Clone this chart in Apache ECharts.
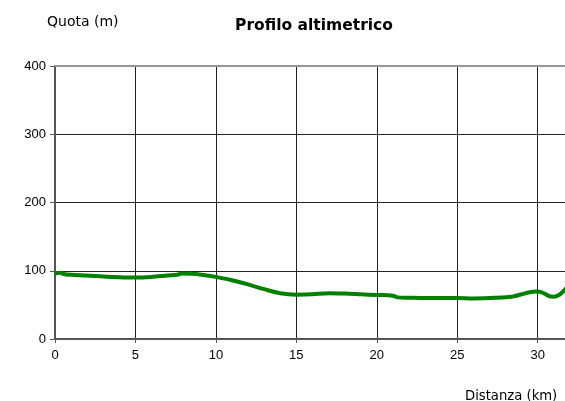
<!DOCTYPE html>
<html>
<head>
<meta charset="utf-8">
<script src="https://cdn.jsdelivr.net/npm/echarts@6/dist/echarts.min.js"></script>
<style>html,body{margin:0;padding:0;background:#fff}#c{width:565px;height:401px}</style>
</head>
<body>
<div id="c"></div>
<script>
var distanceKm = [0, 0.3, 0.6, 1, 2, 3, 4, 5, 6, 7, 7.6, 7.9, 8.5, 9, 10, 11, 12, 13, 14, 15, 16, 17, 18, 19, 20, 21, 21.3, 22, 23, 24, 25, 26, 27, 28, 28.5, 29, 29.5, 29.9, 30.3, 30.7, 31, 31.3, 31.6, 31.8];
var elevationM = [96, 97, 95, 94, 93, 91.5, 90.5, 90, 91, 93, 94, 96, 95.5, 94.5, 91, 86, 80, 73, 67, 65, 65.5, 67, 66.5, 65.5, 64.5, 63.5, 61, 60.5, 60, 60, 60, 59.5, 60, 61, 62.5, 65.5, 68.5, 69.5, 68, 63, 62, 64, 70, 75];
var xTicks = [0, 5, 10, 15, 20, 25, 30];
var yTicks = [0, 100, 200, 300, 400];

var pts = distanceKm.map(function (d, i) { return [d, elevationM[i]]; });
var chart = echarts.init(document.getElementById('c'));
var tickFont = { fontFamily: 'Liberation Sans', fontSize: 13, color: '#000' };
chart.setOption({
  animation: false,
  grid: { left: 55, right: 0, top: 66, bottom: 62 },
  title: [
    { text: 'Profilo altimetrico', left: 314, top: 18, textAlign: 'center', padding: 0,
      textStyle: { fontFamily: 'DejaVu Sans', fontWeight: 'bold', fontSize: 15.5, color: '#000' } },
    { text: 'Quota (m)', left: 47, top: 15, padding: 0,
      textStyle: { fontFamily: 'DejaVu Sans', fontWeight: 'normal', fontSize: 14, color: '#000' } },
    { text: 'Distanza (km)', left: 465, top: 390, padding: 0,
      textStyle: { fontFamily: 'DejaVu Sans', fontWeight: 'normal', fontSize: 13.2, color: '#000' } }
  ],
  xAxis: [{
    type: 'value', min: 0, max: 31.7, interval: 5,
    axisLine: { show: true, lineStyle: { color: '#555', width: 2 } },
    axisTick: { show: true, length: 4, lineStyle: { color: '#555' } },
    axisLabel: Object.assign({ margin: 10, showMaxLabel: false,
      formatter: function (v) { return xTicks.indexOf(v) >= 0 ? String(v) : ''; } }, tickFont),
    splitLine: { show: true, lineStyle: { color: '#222', width: 1 } }
  }, {
    type: 'value', position: 'top', min: 0, max: 31.7,
    axisLine: { show: true, onZero: false, lineStyle: { color: '#999', width: 2 } },
    axisTick: { show: false }, axisLabel: { show: false }, splitLine: { show: false }
  }],
  yAxis: {
    type: 'value', min: 0, max: 400, interval: 100,
    axisLine: { show: true, lineStyle: { color: '#555', width: 2 } },
    axisTick: { show: true, length: 5, lineStyle: { color: '#555' } },
    axisLabel: Object.assign({ margin: 9,
      formatter: function (v) { return yTicks.indexOf(v) >= 0 ? String(v) : ''; } }, tickFont),
    splitLine: { show: true, lineStyle: { color: '#222', width: 1 } }
  },
  series: [{
    type: 'line', data: pts, smooth: 0.3, showSymbol: false, symbol: 'none',
    lineStyle: { color: '#008000', width: 4 }, clip: true
  }]
});
</script>
</body>
</html>
